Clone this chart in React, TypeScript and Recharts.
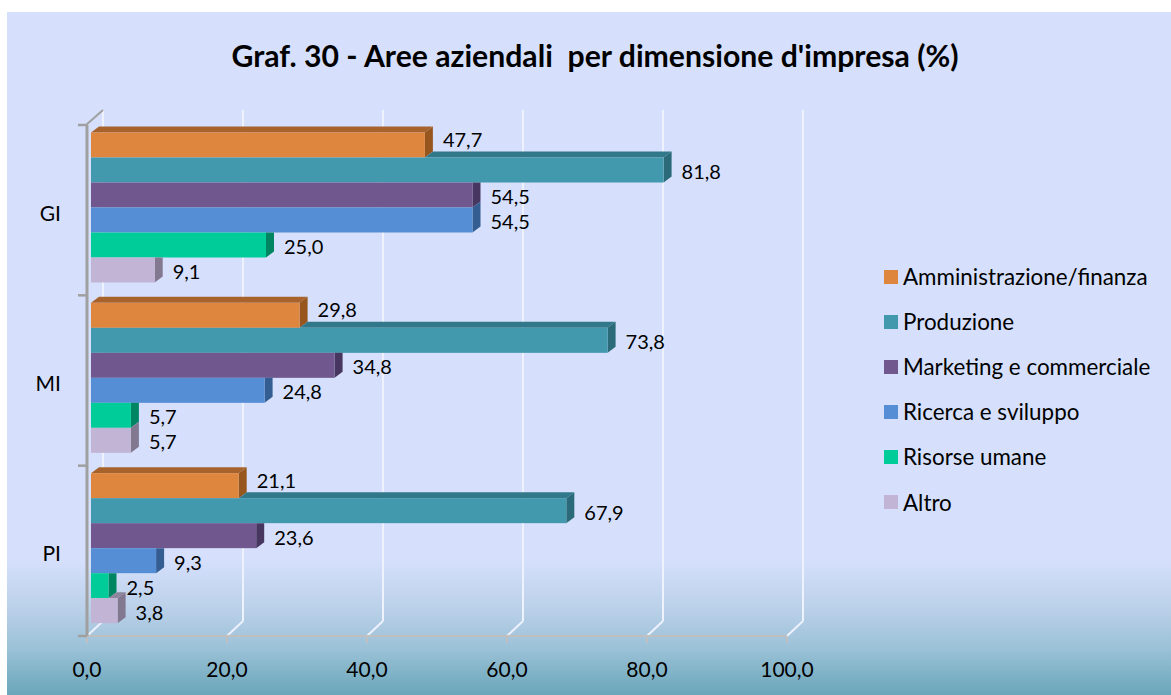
import React from 'react';
import { BarChart, Bar, XAxis, YAxis, CartesianGrid, LabelList } from 'recharts';

// ---------- data ----------
const categories = ['GI', 'MI', 'PI'];
const seriesNames = [
  'Amministrazione/finanza',
  'Produzione',
  'Marketing e commerciale',
  'Ricerca e sviluppo',
  'Risorse umane',
  'Altro',
];
const amministrazione = [47.7, 29.8, 21.1];
const produzione = [81.8, 73.8, 67.9];
const marketing = [54.5, 34.8, 23.6];
const ricerca = [54.5, 24.8, 9.3];
const risorse = [25.0, 5.7, 2.5];
const altro = [9.1, 5.7, 3.8];
const xTicks = [0, 20, 40, 60, 80, 100];
const title = "Graf. 30 - Aree aziendali  per dimensione d'impresa (%)";

const seriesValues = [amministrazione, produzione, marketing, ricerca, risorse, altro];
const seriesKeys = ['s0', 's1', 's2', 's3', 's4', 's5'];

const data = categories.map((c, ci) => {
  const row: any = { cat: c };
  seriesKeys.forEach((k, si) => {
    row[k] = seriesValues[si][ci];
  });
  return row;
});

// ---------- styles ----------
const FRONT = ['#DE853E', '#4299AE', '#70588F', '#558ED5', '#00CC99', '#C2B4D4'];
const TOPC = ['#A8622C', '#31798A', '#4F3D6A', '#3B66A0', '#00946E', '#8E849B'];
const SIDE = ['#98561F', '#2B6A79', '#473760', '#345D92', '#008562', '#827890'];

const W = 1171;
const H = 695;
const PL = 87;
const PR = 787;
const PT = 125;
const PB = 636;
const XH = 40;
const YW = 60;
const DDX = 16; // frame depth
const DDY = 15;
const BDX = 8; // bar depth
const BDY = 6;
const BAND = (PB - PT) / categories.length;
const FONT = 'Lato, "Open Sans", sans-serif';

const fmt = (v: number) => v.toFixed(1).replace('.', ',');

function makeShape(si: number) {
  return (props: any) => {
    const { x, y, width, height, payload } = props;
    const value = payload[seriesKeys[si]];
    const w = width;
    const h = height;
    const fx = x + 4;
    const fy = y - 3;
    let prevW = -1;
    if (si > 0 && value > 0) {
      const pv = payload[seriesKeys[si - 1]];
      prevW = (pv * w) / value;
    }
    const parts: any[] = [];
    if (si === 0) {
      parts.push(
        <polygon key="t" points={`${fx},${fy} ${fx + BDX},${fy - BDY} ${fx + w + BDX},${fy - BDY} ${fx + w},${fy}`} fill={TOPC[si]} />
      );
    } else if (w > prevW) {
      const s = fx + Math.max(0, prevW);
      parts.push(
        <polygon key="t" points={`${s},${fy} ${s + BDX},${fy - BDY} ${fx + w + BDX},${fy - BDY} ${fx + w},${fy}`} fill={TOPC[si]} />
      );
    }
    if (si === 0 || w >= prevW - 0.01) {
      parts.push(
        <polygon key="s" points={`${fx + w},${fy} ${fx + w + BDX},${fy - BDY} ${fx + w + BDX},${fy + h - BDY} ${fx + w},${fy + h}`} fill={SIDE[si]} />
      );
    } else {
      parts.push(
        <polygon key="s" points={`${fx + w},${fy} ${fx + w + BDX},${fy} ${fx + w + BDX},${fy + h - BDY} ${fx + w},${fy + h}`} fill={SIDE[si]} />
      );
    }
    parts.push(<rect key="f" x={fx} y={fy} width={Math.max(0, w)} height={h} fill={FRONT[si]} />);
    return <g>{parts}</g>;
  };
}

function makeLabel(si: number) {
  return (p: any) => {
    const x = p.x ?? p.viewBox?.x;
    const y = p.y ?? p.viewBox?.y;
    const width = p.width ?? p.viewBox?.width;
    const height = p.height ?? p.viewBox?.height;
    const dy = si === 0 ? -7 : 0;
    return (
      <text
        x={x + width + 22}
        y={y + height / 2 - 2 + dy}
        dominantBaseline="central"
        fontFamily={FONT}
        fontSize={20}
        fill="#000"
      >
        {fmt(p.value)}
      </text>
    );
  };
}

const GridLine = (props: any) => {
  const { x1, y1, y2 } = props;
  const bx = x1 + DDX;
  return (
    <g>
      <line x1={bx} y1={y1 - DDY} x2={bx} y2={y2 - DDY} stroke="#eef2fd" strokeWidth={2} />
      <line x1={bx} y1={y2 - DDY} x2={x1} y2={y2} stroke="#eef2fd" strokeWidth={2} />
    </g>
  );
};

const XTick = (props: any) => {
  const { x, payload } = props;
  return (
    <g>
      <line x1={x} y1={PB + 1} x2={x} y2={PB + 7} stroke="#bfbfbf" strokeWidth={2} />
      <text x={x} y={PB + 32} textAnchor="middle" dominantBaseline="central" fontFamily={FONT} fontSize={21} fill="#000">
        {fmt(payload.value)}
      </text>
    </g>
  );
};

const YTick = (props: any) => {
  const { y, payload, index } = props;
  const top = y - BAND / 2;
  return (
    <g>
      <line x1={78} y1={top} x2={PL} y2={top} stroke="#a0a0a0" strokeWidth={2.5} />
      {index === categories.length - 1 && (
        <line x1={78} y1={top + BAND} x2={PL} y2={top + BAND} stroke="#a0a0a0" strokeWidth={2.5} />
      )}
      {index === 0 && (
        <line x1={PL - 1} y1={top} x2={PL + DDX} y2={top - DDY} stroke="#a0a0a0" strokeWidth={2} />
      )}
      <text x={61} y={y + 2} textAnchor="end" dominantBaseline="central" fontFamily={FONT} fontSize={21} fill="#000">
        {payload.value}
      </text>
    </g>
  );
};

export default function App() {
  return (
    <div style={{ position: 'absolute', left: 0, top: 0, width: W, height: H, background: '#fff', overflow: 'hidden' }}>
      <div
        style={{
          position: 'absolute',
          left: 7,
          top: 12,
          width: W - 7,
          height: H - 12,
          background:
            'linear-gradient(to bottom, #d6e0fd 0%, #d6e0fd 80%, #bcd1ea 87%, #9cc2d8 93%, #6aa6b9 100%)',
        }}
      />
      <div
        style={{
          position: 'absolute',
          left: 7,
          width: W - 7 + 12,
          top: 37,
          textAlign: 'center',
          fontFamily: FONT,
          fontWeight: 700,
          fontSize: 30.2,
          color: '#000',
          whiteSpace: 'pre',
        }}
      >
        {title}
      </div>
      <div style={{ position: 'absolute', left: 0, top: 0 }}>
        <BarChart
          width={W}
          height={H}
          data={data}
          layout="vertical"
          margin={{ top: PT, right: W - PR, bottom: H - PB - XH, left: PL - YW }}
          barCategoryGap={10.5}
          barGap={0}
        >
          <CartesianGrid horizontal={false} vertical={GridLine as any} stroke="none" />
          <XAxis
            type="number"
            domain={[0, 100]}
            ticks={xTicks}
            interval={0}
            height={XH}
            axisLine={{ stroke: '#bfbfbf', strokeWidth: 2 }}
            tickLine={false}
            tick={XTick as any}
          />
          <YAxis
            type="category"
            dataKey="cat"
            width={YW}
            axisLine={{ stroke: '#a0a0a0', strokeWidth: 3 }}
            tickLine={false}
            tick={YTick as any}
            interval={0}
          />
          {seriesKeys.map((k, si) => (
            <Bar key={k} dataKey={k} name={seriesNames[si]} isAnimationActive={false} shape={makeShape(si) as any}>
              <LabelList dataKey={k} content={makeLabel(si) as any} />
            </Bar>
          ))}
        </BarChart>
      </div>
      <div style={{ position: 'absolute', left: 884, top: 254 }}>
        {seriesNames.map((n, si) => (
          <div key={n} style={{ display: 'flex', alignItems: 'center', height: 45.1, fontFamily: FONT, fontSize: 22.4, color: '#000' }}>
            <div style={{ width: 14, height: 14, background: FRONT[si], marginRight: 5 }} />
            <span>{n}</span>
          </div>
        ))}
      </div>
    </div>
  );
}
